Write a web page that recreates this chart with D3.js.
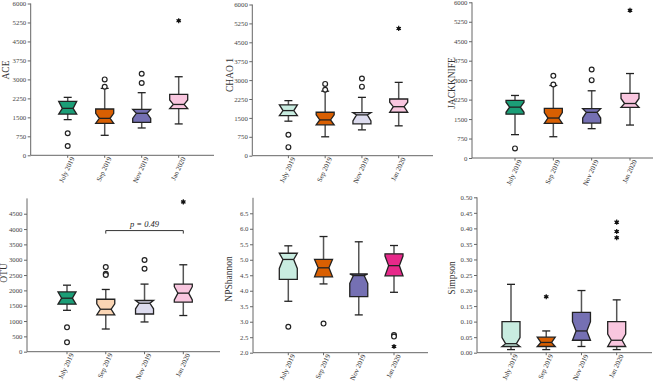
<!DOCTYPE html>
<html><head><meta charset="utf-8">
<script src="https://cdn.jsdelivr.net/npm/d3@7/dist/d3.min.js"></script>
<style>body{margin:0;background:#fff}svg{display:block}</style>
</head><body>
<svg id="chart" width="668" height="382"></svg>
<script>
// ---------- DATA ----------
const groups = ["July 2019", "Sep 2019", "Nov 2019", "Jan 2020"];

const aceLow = [1410, 790, 1080, 1240];
const aceQ1 = [1630, 1265, 1300, 1845];
const aceMed = [1855, 1460, 1660, 2010];
const aceQ3 = [2130, 1830, 1815, 2410];
const aceHigh = [2290, 2645, 2475, 3105];
const aceNotchLo = [1630, 1265, 1460, 1845];
const aceNotchHi = [2130, 1660, 1815, 2185];
const aceOutliers = [[0, 870, "o"], [0, 370, "o"], [1, 3000, "o"], [1, 2710, "o"], [2, 3225, "o"], [2, 2855, "o"], [3, 5320, "*"]];
const aceTicks = [0, 750, 1500, 2250, 3000, 3750, 4500, 5250, 6000];

const chaoLow = [1370, 750, 1025, 1185];
const chaoQ1 = [1590, 1225, 1265, 1725];
const chaoMed = [1790, 1420, 1620, 1945];
const chaoQ3 = [2015, 1725, 1710, 2250];
const chaoHigh = [2185, 2560, 2315, 2910];
const chaoNotchLo = [1590, 1225, 1380, 1725];
const chaoNotchHi = [2015, 1620, 1710, 2120];
const chaoOutliers = [[0, 830, "o"], [0, 340, "o"], [1, 2850, "o"], [1, 2620, "o"], [2, 3065, "o"], [2, 2740, "o"], [3, 5050, "*"]];
const chaoTicks = [0, 750, 1500, 2250, 3000, 3750, 4500, 5250, 6000];

const jackLow = [900, 820, 1130, 1270];
const jackQ1 = [1690, 1335, 1345, 1950];
const jackMed = [1960, 1540, 1760, 2100];
const jackQ3 = [2220, 1910, 1900, 2490];
const jackHigh = [2410, 2795, 2590, 3255];
const jackNotchLo = [1760, 1335, 1540, 1950];
const jackNotchHi = [2150, 1750, 1900, 2295];
const jackOutliers = [[0, 370, "o"], [1, 3165, "o"], [1, 2830, "o"], [2, 3410, "o"], [2, 3000, "o"], [3, 5690, "*"]];
const jackTicks = [0, 750, 1500, 2250, 3000, 3750, 4500, 5250, 6000];

const otuLow = [1350, 740, 970, 1180];
const otuQ1 = [1550, 1200, 1230, 1615];
const otuMed = [1745, 1385, 1580, 1910];
const otuQ3 = [1950, 1710, 1670, 2205];
const otuHigh = [2170, 2030, 2205, 2835];
const otuNotchLo = [1550, 1200, 1400, 1690];
const otuNotchHi = [1950, 1560, 1670, 2120];
const otuOutliers = [[0, 795, "o"], [0, 305, "o"], [1, 2760, "o"], [1, 2540, "o"], [1, 2500, "o"], [2, 2990, "o"], [2, 2705, "o"], [3, 4885, "*"]];
const otuTicks = [0, 500, 1000, 1500, 2000, 2500, 3000, 3500, 4000, 4500];
const otuBracket = { from: 1, to: 3, value: 3950, label: "p = 0.49" };

const shanLow = [3.66, 4.22, 3.22, 3.95];
const shanQ1 = [4.37, 4.45, 3.81, 4.48];
const shanMed = [5.01, 4.74, 4.49, 4.81];
const shanQ3 = [5.21, 5.01, 4.54, 5.19];
const shanHigh = [5.45, 5.75, 5.58, 5.46];
const shanNotchLo = [4.72, 4.45, 4.24, 4.48];
const shanNotchHi = [5.21, 5.01, 4.54, 5.12];
const shanOutliers = [[0, 2.84, "o"], [1, 2.94, "o"], [3, 2.57, "o"], [3, 2.52, "o"], [3, 2.20, "*"]];
const shanTicks = [2.0, 2.5, 3.0, 3.5, 4.0, 4.5, 5.0, 5.5, 6.0, 6.5];

const simpLow = [0.01, 0.01, 0.02, 0.01];
const simpQ1 = [0.02, 0.02, 0.04, 0.02];
const simpMed = [0.029, 0.033, 0.07, 0.04];
const simpQ3 = [0.10, 0.05, 0.13, 0.10];
const simpHigh = [0.22, 0.07, 0.20, 0.17];
const simpNotchLo = [0.02, 0.02, 0.04, 0.02];
const simpNotchHi = [0.049, 0.05, 0.10, 0.06];
const simpOutliers = [[1, 0.18, "*"], [3, 0.42, "*"], [3, 0.39, "*"], [3, 0.37, "*"]];
const simpTicks = [0, 0.05, 0.10, 0.15, 0.20, 0.25, 0.30, 0.35, 0.40, 0.45, 0.50];

// ---------- STYLE ----------
const C = {
  green: "#1b9e77", mint: "#c8ece0", orange: "#d95f02", peach: "#fad5b4",
  purple: "#7570b3", lavender: "#dcdbee", pink: "#f9c6df", hotpink: "#e7298a"
};
const FONT = "'Liberation Serif', 'Times New Roman', serif";

const panels = [
  { label: "ACE", low: aceLow, q1: aceQ1, med: aceMed, q3: aceQ3, high: aceHigh, nLo: aceNotchLo, nHi: aceNotchHi, out: aceOutliers,
    ticks: aceTicks, domain: [0, 6000], fmt: d3.format("d"), y: [155.3, 3.5], ax: [30.7, 214], cx: [67.7, 178.7],
    colors: [C.green, C.orange, C.purple, C.pink], lab: [9, 70] },
  { label: "CHAO 1", low: chaoLow, q1: chaoQ1, med: chaoMed, q3: chaoQ3, high: chaoHigh, nLo: chaoNotchLo, nHi: chaoNotchHi, out: chaoOutliers,
    ticks: chaoTicks, domain: [0, 6000], fmt: d3.format("d"), y: [155.7, 4.5], ax: [252.3, 433], cx: [288.4, 398.7],
    colors: [C.mint, C.orange, C.lavender, C.pink], lab: [232.5, 75] },
  { label: "JACKKNIFE", low: jackLow, q1: jackQ1, med: jackMed, q3: jackQ3, high: jackHigh, nLo: jackNotchLo, nHi: jackNotchHi, out: jackOutliers,
    ticks: jackTicks, domain: [0, 6000], fmt: d3.format("d"), y: [158, 2.3], ax: [472, 653], cx: [515, 630],
    colors: [C.green, C.orange, C.purple, C.pink], lab: [455, 83] },
  { label: "OTU", low: otuLow, q1: otuQ1, med: otuMed, q3: otuQ3, high: otuHigh, nLo: otuNotchLo, nHi: otuNotchHi, out: otuOutliers,
    ticks: otuTicks, domain: [0, 5000], fmt: d3.format("d"), y: [351.7, 198.4], ax: [27, 220], cx: [67, 183.3],
    colors: [C.green, C.peach, C.lavender, C.pink], lab: [7, 273], bracket: otuBracket },
  { label: "NPShannon", low: shanLow, q1: shanQ1, med: shanMed, q3: shanQ3, high: shanHigh, nLo: shanNotchLo, nHi: shanNotchHi, out: shanOutliers,
    ticks: shanTicks, domain: [2, 7], fmt: d3.format(".1f"), y: [352.7, 197.8], ax: [253, 428], cx: [288.3, 394],
    colors: [C.mint, C.orange, C.purple, C.hotpink], lab: [232, 279] },
  { label: "Simpson", low: simpLow, q1: simpQ1, med: simpMed, q3: simpQ3, high: simpHigh, nLo: simpNotchLo, nHi: simpNotchHi, out: simpOutliers,
    ticks: simpTicks, domain: [0, 0.5], fmt: d3.format(".2f"), y: [352.7, 197.3], ax: [477, 652], cx: [511, 616.7],
    colors: [C.mint, C.orange, C.purple, C.pink], lab: [455, 278] }
];

const svg = d3.select("#chart");
const BW = 18, IND = 3.6, CAP = 8;

panels.forEach(p => {
  const g = svg.append("g");
  const y = d3.scaleLinear().domain(p.domain).range(p.y);
  const x = d3.scalePoint().domain(groups).range(p.cx);

  // y axis
  const ya = g.append("g").attr("transform", `translate(${p.ax[0]},0)`)
    .call(d3.axisLeft(y).tickValues(p.ticks).tickFormat(p.fmt).tickSize(3).tickPadding(1.5));
  ya.select(".domain").attr("stroke", "#666").attr("stroke-width", 1).attr("d", `M0,${p.y[0]}V${p.y[1]}`);
  ya.selectAll(".tick line").attr("stroke", "#666");
  ya.selectAll("text").attr("font-family", FONT).attr("font-size", 6.8).attr("fill", "#444");

  // x axis line
  g.append("line").attr("x1", p.ax[0]).attr("x2", p.ax[1]).attr("y1", p.y[0]).attr("y2", p.y[0])
    .attr("stroke", "#666").attr("stroke-width", 1);
  groups.forEach(gr => {
    g.append("line").attr("x1", x(gr)).attr("x2", x(gr)).attr("y1", p.y[0]).attr("y2", p.y[0] + 2.5)
      .attr("stroke", "#666");
    g.append("text").attr("transform", `translate(${x(gr) + 7},${p.y[0] + 3}) rotate(-65)`)
      .attr("text-anchor", "end").attr("font-family", FONT).attr("font-size", 7).attr("fill", "#333").text(gr);
  });

  // y label
  g.append("text").attr("transform", `translate(${p.lab[0]},${p.lab[1]}) rotate(-90)`)
    .attr("text-anchor", "middle").attr("font-family", FONT).attr("font-size", 9.5).attr("fill", "#333").text(p.label);

  // boxes
  groups.forEach((gr, i) => {
    const cx = x(gr), l = cx - BW / 2, r = cx + BW / 2;
    g.append("line").attr("x1", cx).attr("x2", cx).attr("y1", y(p.q3[i])).attr("y2", y(p.high[i]))
      .attr("stroke", "#555").attr("stroke-width", 1.5);
    g.append("line").attr("x1", cx).attr("x2", cx).attr("y1", y(p.q1[i])).attr("y2", y(p.low[i]))
      .attr("stroke", "#555").attr("stroke-width", 1.5);
    [p.high[i], p.low[i]].forEach(v => {
      g.append("line").attr("x1", cx - CAP / 2).attr("x2", cx + CAP / 2).attr("y1", y(v)).attr("y2", y(v))
        .attr("stroke", "#222").attr("stroke-width", 1.3);
    });
    const yq3 = y(p.q3[i]), yq1 = y(p.q1[i]), ym = y(p.med[i]);
    const ynh = y(Math.min(p.nHi[i], p.q3[i])), ynl = y(Math.max(p.nLo[i], p.q1[i]));
    const path = d3.path();
    path.moveTo(l, yq3); path.lineTo(r, yq3); path.lineTo(r, ynh); path.lineTo(r - IND, ym);
    path.lineTo(r, ynl); path.lineTo(r, yq1); path.lineTo(l, yq1); path.lineTo(l, ynl);
    path.lineTo(l + IND, ym); path.lineTo(l, ynh); path.closePath();
    g.append("path").attr("d", path.toString()).attr("fill", p.colors[i])
      .attr("stroke", "#222").attr("stroke-width", 1.3).attr("stroke-linejoin", "miter");
    g.append("line").attr("x1", l + IND).attr("x2", r - IND).attr("y1", ym).attr("y2", ym)
      .attr("stroke", "#222").attr("stroke-width", 1.3);
  });

  // outliers
  p.out.forEach(([gi, v, t]) => {
    const cx = x(groups[gi]), cy = y(v);
    if (t === "o") {
      g.append("circle").attr("cx", cx).attr("cy", cy).attr("r", 2.4)
        .attr("fill", "#fff").attr("stroke", "#222").attr("stroke-width", 1.2);
    } else {
      g.append("path").attr("transform", `translate(${cx},${cy})`)
        .attr("d", d3.symbol().type(d3.symbolAsterisk).size(18)())
        .attr("stroke", "#111").attr("stroke-width", 1.2).attr("fill", "none");
      g.append("circle").attr("cx", cx).attr("cy", cy).attr("r", 1.6).attr("fill", "#111");
    }
  });

  // significance bracket
  if (p.bracket) {
    const b = p.bracket, x1 = x(groups[b.from]), x2 = x(groups[b.to]), by = y(b.value);
    g.append("path").attr("d", `M${x1},${by + 3}V${by}H${x2}V${by + 3}`)
      .attr("fill", "none").attr("stroke", "#333").attr("stroke-width", 1);
    g.append("text").attr("x", (x1 + x2) / 2).attr("y", by - 4).attr("text-anchor", "middle")
      .attr("font-family", FONT).attr("font-style", "italic").attr("font-size", 8.5).attr("fill", "#222").text(b.label);
  }
});
</script>
</body></html>
